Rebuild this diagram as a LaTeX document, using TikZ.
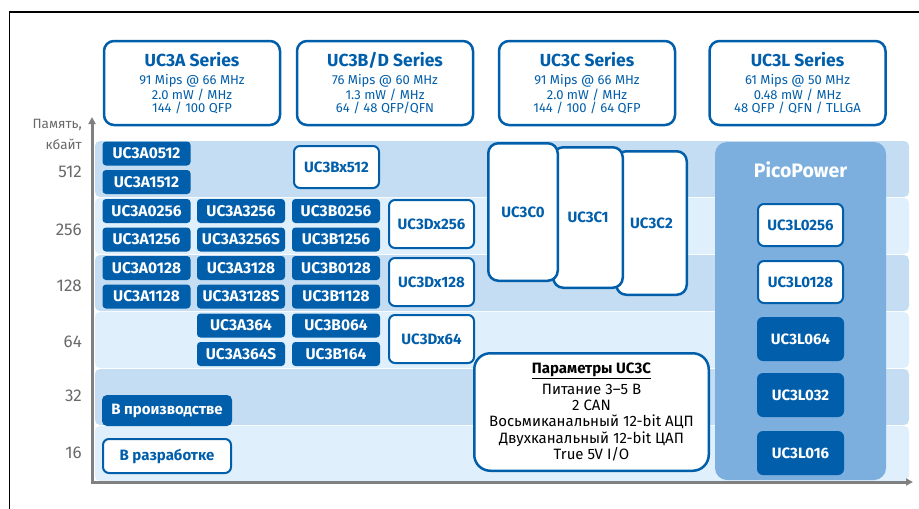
\documentclass[tikz,border=0pt]{standalone}
\usepackage{fontspec}
\setmainfont{Fira Sans}
\usetikzlibrary{arrows.meta}
\definecolor{dblue}{RGB}{0,94,170}
\definecolor{banddark}{RGB}{197,221,242}
\definecolor{bandlight}{RGB}{223,240,252}
\definecolor{picoc}{RGB}{124,175,222}
\definecolor{axisgrey}{RGB}{128,128,128}
\definecolor{labgrey}{RGB}{105,105,105}
\tikzset{
  chip/.style={rectangle, rounded corners=3.5pt, fill=dblue, text=white,
    font=\fontsize{15.5}{15.5}\selectfont\bfseries, minimum width=88pt,
    minimum height=24pt, inner sep=0pt},
  wchip/.style={rectangle, rounded corners=6pt, draw=dblue, line width=2pt,
    fill=white, text=dblue, font=\fontsize{15}{15}\selectfont\bfseries,
    inner sep=0pt},
  dchip/.style={rectangle, rounded corners=6pt, fill=dblue, text=white,
    font=\fontsize{15}{15}\selectfont\bfseries, inner sep=0pt},
  cbox/.style={rectangle, rounded corners=10pt, draw=dblue, line width=2.5pt,
    fill=white, text=dblue, font=\fontsize{15}{15}\selectfont\bfseries,
    inner sep=0pt},
  hdr/.style={rectangle, rounded corners=10pt, draw=dblue, line width=2.5pt,
    fill=white, text=dblue, align=center, minimum width=176pt,
    minimum height=84pt, inner sep=0pt, font=\fontsize{13}{13}\selectfont},
  memlab/.style={anchor=east, text=labgrey, font=\fontsize{17}{17}\selectfont, inner sep=0pt},
  axisline/.style={draw=axisgrey, line width=3pt, -{Triangle[length=7pt,width=7pt]}},
}
\newcommand{\hdrtitle}[1]{{\fontsize{17.5}{17.5}\selectfont\bfseries #1}}
\begin{document}
\begin{tikzpicture}[x=1pt,y=-1pt]
\useasboundingbox (0,0) rectangle (919,509);
% frame
\draw[black, line width=1.2pt] (919,12) -- (9.5,12) -- (9.5,509);

% headers
\node[hdr] (hA) at (192,83) {\hdrtitle{UC3A Series}\\[5pt]91 Mips @ 66 MHz\\2.0 mW / MHz\\144 / 100 QFP};
\node[hdr] (hB) at (385,83) {\hdrtitle{UC3B/D Series}\\[5pt]76 Mips @ 60 MHz\\1.3 mW / MHz\\64 / 48 QFP/QFN};
\node[hdr] (hC) at (587,83) {\hdrtitle{UC3C Series}\\[5pt]91 Mips @ 66 MHz\\2.0 mW / MHz\\144 / 100 / 64 QFP};
\node[hdr] (hL) at (797.5,83) {\hdrtitle{UC3L Series}\\[5pt]61 Mips @ 50 MHz\\0.48 mW / MHz\\48 QFP / QFN / TLLGA};

% bands
\fill[banddark, rounded corners=5pt] (95,141) rectangle (909,197);
\fill[bandlight, rounded corners=5pt] (95,198) rectangle (909,254);
\fill[banddark, rounded corners=5pt] (95,255) rectangle (909,311);
\fill[bandlight, rounded corners=5pt] (95,312) rectangle (909,368);
\fill[banddark, rounded corners=5pt] (95,369) rectangle (909,425);
\fill[bandlight, rounded corners=5pt] (95,426) rectangle (909,481);

% axes
\coordinate (origin) at (92,482);
\coordinate (ytop) at (92,117);
\coordinate (xend) at (913,482);
\draw[axisline] (origin) -- (ytop);
\draw[axisline] ([xshift=-1.5pt]origin) -- (xend);

% axis labels
\node[anchor=east, text=labgrey, font=\fontsize{13.5}{13.5}\selectfont, inner sep=0pt] (mem1) at (82,125) {Память,};
\node[anchor=east, text=labgrey, font=\fontsize{13.5}{13.5}\selectfont, inner sep=0pt] (mem2) at (82,144) {кбайт};
\node[memlab] (l512) at (82,172) {512};
\node[memlab] (l256) at (82,230) {256};
\node[memlab] (l128) at (82,286) {128};
\node[memlab] (l64) at (82,342) {64};
\node[memlab] (l32) at (82,396) {32};
\node[memlab] (l16) at (82,453) {16};

% UC3A column 1
\node[chip] (a0512) at (146.5,153.5) {UC3A0512};
\node[chip] (a1512) at (146.5,182) {UC3A1512};
\node[chip] (a0256) at (146.5,211) {UC3A0256};
\node[chip] (a1256) at (146.5,239.5) {UC3A1256};
\node[chip] (a0128) at (146.5,268) {UC3A0128};
\node[chip] (a1128) at (146.5,296.5) {UC3A1128};
% UC3A column 2
\node[chip] (a3256) at (241,211) {UC3A3256};
\node[chip] (a3256s) at (241,239.5) {UC3A3256S};
\node[chip] (a3128) at (241,268) {UC3A3128};
\node[chip] (a3128s) at (241,296.5) {UC3A3128S};
\node[chip] (a364) at (241,325.5) {UC3A364};
\node[chip] (a364s) at (241,354) {UC3A364S};
% UC3B column
\node[wchip, minimum width=85pt, minimum height=42pt] (bx512) at (336.5,167) {UC3Bx512};
\node[chip] (b0256) at (336,211) {UC3B0256};
\node[chip] (b1256) at (336,239.5) {UC3B1256};
\node[chip] (b0128) at (336,268) {UC3B0128};
\node[chip] (b1128) at (336,296.5) {UC3B1128};
\node[chip] (b064) at (336,325.5) {UC3B064};
\node[chip] (b164) at (336,354) {UC3B164};
% UC3D column
\node[wchip, minimum width=85pt, minimum height=48pt] (dx256) at (431.5,224) {UC3Dx256};
\node[wchip, minimum width=85pt, minimum height=48pt] (dx128) at (431.5,282) {UC3Dx128};
\node[wchip, minimum width=85pt, minimum height=48pt] (dx64) at (431.5,339) {UC3Dx64};

% UC3C
\node[cbox, minimum width=70.5pt, minimum height=143.5pt] (c2) at (651.5,223) {UC3C2};
\node[cbox, minimum width=69.5pt, minimum height=140.5pt] (c1) at (588,217.5) {UC3C1};
\node[cbox, minimum width=69.5pt, minimum height=137.5pt] (c0) at (523,212) {UC3C0};

% PicoPower
\node[rectangle, rounded corners=12pt, fill=picoc, minimum width=171pt, minimum height=338pt, inner sep=0pt] (pico) at (800.5,311) {};
\node[text=white, font=\fontsize{19.5}{19.5}\selectfont\bfseries, inner sep=0pt] (picot) at (800.5,170) {PicoPower};
\node[wchip, minimum width=85pt, minimum height=42pt] (l0256) at (800.5,225) {UC3L0256};
\node[wchip, minimum width=85pt, minimum height=42pt] (l0128) at (800.5,282) {UC3L0128};
\node[dchip, minimum width=87pt, minimum height=44pt] (l064) at (800.5,339) {UC3L064};
\node[dchip, minimum width=87pt, minimum height=44pt] (l032) at (800.5,395) {UC3L032};
\node[dchip, minimum width=87pt, minimum height=44pt] (l016) at (800.5,453) {UC3L016};

% parameters box
\node[rectangle, rounded corners=16pt, draw=dblue, line width=2.5pt, fill=white,
  minimum width=234.5pt, minimum height=117.5pt, inner sep=0pt, align=center,
  font=\fontsize{15}{16.3}\selectfont, text=black] (params) at (591.5,412)
  {\textbf{\underline{Параметры UC3C}}\\[4.5pt]Питание 3--5 В\\2 CAN\\Восьмиканальный 12-bit АЦП\\Двухканальный 12-bit ЦАП\\True 5V I/O};

% legend
\node[dchip, minimum width=130pt, minimum height=31pt, rounded corners=5pt] (prod) at (167,410.5) {В производстве};
\node[wchip, minimum width=128pt, minimum height=34pt] (dev) at (167,456) {В разработке};
\end{tikzpicture}
\end{document}
